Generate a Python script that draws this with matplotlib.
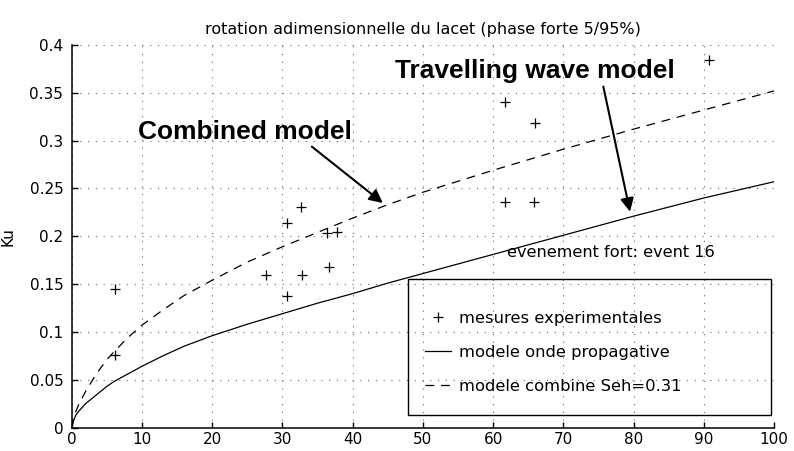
import matplotlib
matplotlib.use("Agg")
import matplotlib.pyplot as plt
from matplotlib.patches import Rectangle

plt.rcParams["font.family"] = ["DejaVu Sans"]

# experimental measurements (event 16)
meas_x = [6.1, 6.1, 27.6, 30.7, 30.7, 32.7, 32.8, 36.4, 37.8, 36.6,
          61.7, 61.7, 65.9, 65.8, 90.7]
meas_ku = [0.145, 0.076, 0.160, 0.214, 0.138, 0.2305, 0.160, 0.203, 0.204, 0.168,
           0.340, 0.236, 0.318, 0.236, 0.384]

# model curves
model_x = [0, 0.3, 0.6, 1, 1.5, 2, 3, 4, 5, 6, 8, 10, 13, 16, 20, 25, 30,
           35, 40, 45, 50, 60, 70, 80, 90, 100]
wave_ku = [0, 0.008, 0.013, 0.017, 0.021, 0.025, 0.031, 0.037, 0.043, 0.048,
           0.056, 0.064, 0.075, 0.085, 0.096, 0.108, 0.119, 0.130, 0.140, 0.151,
           0.161, 0.181, 0.201, 0.221, 0.240, 0.257]
combined_ku = [0, 0.010, 0.017, 0.024, 0.031, 0.038, 0.050, 0.061, 0.071, 0.079,
               0.094, 0.107, 0.123, 0.138, 0.154, 0.173, 0.189, 0.204, 0.219,
               0.233, 0.246, 0.269, 0.291, 0.312, 0.332, 0.352]

x_ticks = [0, 10, 20, 30, 40, 50, 60, 70, 80, 90, 100]
y_ticks = [0, 0.05, 0.1, 0.15, 0.2, 0.25, 0.3, 0.35, 0.4]
y_ticklabels = ["0", "0.05", "0.1", "0.15", "0.2", "0.25", "0.3", "0.35", "0.4"]

fig = plt.figure(figsize=(7.94, 4.51), dpi=100)
ax = fig.add_axes([0.0903, 0.0521, 0.8845, 0.8481])

ax.plot(meas_x, meas_ku, linestyle="none", marker="+", markersize=7.5,
        markeredgewidth=0.9, color="black", label="mesures experimentales")
ax.plot(model_x, wave_ku, color="black", linewidth=0.9,
        label="modele onde propagative")
ax.plot(model_x, combined_ku, color="black", linewidth=0.9,
        linestyle=(0, (7, 5.5)), label="modele combine Seh=0.31")

ax.set_xlim(0, 100)
ax.set_ylim(0, 0.4)
ax.set_xticks(x_ticks)
ax.set_yticks(y_ticks)
ax.set_yticklabels(y_ticklabels)

ax.grid(True, color="0.4", linestyle=(0, (1, 6)), linewidth=0.8)
for side in ("top", "right"):
    ax.spines[side].set_visible(False)
for side in ("left", "bottom"):
    ax.spines[side].set_linewidth(1.1)
ax.tick_params(direction="in", length=4, width=1.0, labelsize=11)
ax.tick_params(axis="x", pad=3)
ax.tick_params(axis="y", pad=6)

ax.set_title("rotation adimensionnelle du lacet (phase forte 5/95%)",
             fontsize=11.5, pad=8)
ax.set_ylabel("Ku", fontsize=11, labelpad=10)

bold = dict(family=["Liberation Sans", "DejaVu Sans"], fontweight="bold",
            fontsize=19)
ax.text(24.7, 0.309, "Combined model", ha="center", va="center", **bold)
ax.text(65.9, 0.373, "Travelling wave model", ha="center", va="center", **bold)

arrow = dict(arrowstyle="-|>", color="black", lw=1.5, mutation_scale=20,
             shrinkA=0, shrinkB=0)
ax.annotate("", xy=(44.3, 0.2348), xytext=(34.2, 0.2937), arrowprops=arrow)
ax.annotate("", xy=(79.5, 0.2257), xytext=(75.7, 0.3565), arrowprops=arrow)

ax.text(62.0, 0.1825, "evenement fort: event 16", ha="left", va="center",
        fontsize=11.6)

# legend frame and entries
ax.add_patch(Rectangle((0.479, 0.0327), 0.5163, 0.3543, transform=ax.transAxes,
                       fill=False, edgecolor="black", linewidth=1.0, zorder=4))
leg = ax.legend(loc="upper left", bbox_to_anchor=(0.503, 0.305),
                frameon=False, fontsize=11.8, borderpad=0, borderaxespad=0,
                handlelength=1.6, handletextpad=0.5, labelspacing=1.15)

fig.savefig("out.png", dpi=100)
